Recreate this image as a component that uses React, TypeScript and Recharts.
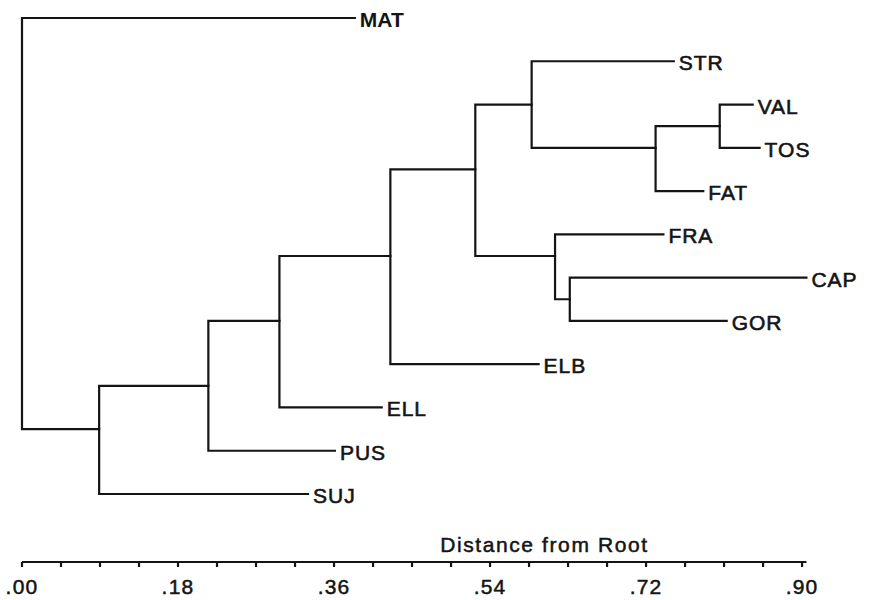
import React from 'react';
import { ComposedChart, Line, Scatter, XAxis, YAxis, Label } from 'recharts';

// Leaves (terminal taxa), top to bottom
const leafNames = ['MAT', 'STR', 'VAL', 'TOS', 'FAT', 'FRA', 'CAP', 'GOR', 'ELB', 'ELL', 'PUS', 'SUJ'];
const leafDistances = [0.384, 0.752, 0.843, 0.851, 0.786, 0.74, 0.905, 0.813, 0.596, 0.415, 0.361, 0.33];
const leafRows = [0, 1, 2, 3, 4, 5, 6, 7, 8, 9, 10, 11];

// Internal nodes
const nodeNames = ['root', 'A', 'B', 'C', 'D', 'E', 'F', 'G', 'H', 'I', 'J'];
const nodeDistances = [0, 0.089, 0.215, 0.297, 0.425, 0.523, 0.588, 0.731, 0.805, 0.615, 0.632];
const nodeRows = [4.75, 9.5, 8.5, 7, 5.5, 3.5, 2, 3, 2.5, 5.5, 6.5];
const nodeUpperChild = ['MAT', 'B', 'C', 'D', 'E', 'F', 'STR', 'H', 'VAL', 'FRA', 'CAP'];
const nodeLowerChild = ['A', 'SUJ', 'PUS', 'ELL', 'ELB', 'I', 'G', 'FAT', 'TOS', 'J', 'GOR'];

// Axis
const axisTicks = [0, 0.045, 0.09, 0.135, 0.18, 0.225, 0.27, 0.315, 0.36, 0.405, 0.45, 0.495, 0.54, 0.585, 0.63, 0.675, 0.72, 0.765, 0.81, 0.855, 0.9];
const labeledTicks = [0, 0.18, 0.36, 0.54, 0.72, 0.9];
const axisTitle = 'Distance from Root';

const FONT = '"Liberation Sans", Arial, Helvetica, sans-serif';
const INK = '#141414';

function position(name: string): { x: number; y: number } {
  const li = leafNames.indexOf(name);
  if (li >= 0) return { x: leafDistances[li], y: leafRows[li] };
  const ni = nodeNames.indexOf(name);
  return { x: nodeDistances[ni], y: nodeRows[ni] };
}

const brackets = nodeNames.map((n, i) => {
  const u = position(nodeUpperChild[i]);
  const l = position(nodeLowerChild[i]);
  const d = nodeDistances[i];
  return {
    name: n,
    points: [
      { x: u.x, y: u.y },
      { x: d, y: u.y },
      { x: d, y: l.y },
      { x: l.x, y: l.y },
    ],
  };
});

const leafData = leafNames.map((n, i) => ({ x: leafDistances[i], y: leafRows[i], name: n }));

const formatTick = (v: number) =>
  labeledTicks.some((t) => Math.abs(t - v) < 1e-9) ? v.toFixed(2).replace(/^0/, '') : '';

const LeafLabel = (props: any) => {
  const { cx, cy, payload } = props;
  if (cx == null || cy == null) return null;
  const bold = payload.name === 'MAT';
  return (
    <text
      x={cx + 5}
      y={cy + 9}
      fontFamily={FONT}
      fontSize={21}
      fontWeight={bold ? 'bold' : 'normal'}
      letterSpacing={bold ? 0 : 1}
      fill={INK}
      stroke={INK}
      strokeWidth={bold ? 0 : 0.6}
      textAnchor="start"
    >
      {payload.name}
    </text>
  );
};

const AxisTitle = (props: any) => {
  const vb = props.viewBox || {};
  return (
    <text
      x={vb.x + vb.width * 0.666}
      y={vb.y - 10}
      textAnchor="middle"
      fontFamily={FONT}
      fontSize={21}
      letterSpacing={1.6}
      fill={INK}
      stroke={INK}
      strokeWidth={0.5}
    >
      {axisTitle}
    </text>
  );
};

export default function App() {
  return (
    <div style={{ position: 'absolute', left: 0, top: 0, width: 873, height: 600, background: '#fff' }}>
      <ComposedChart width={873} height={600} margin={{ top: 18, right: 66.6, bottom: 0, left: 22 }}>
        <XAxis
          type="number"
          dataKey="x"
          domain={[0, 'dataMax']}
          ticks={axisTicks}
          interval={0}
          tickFormatter={formatTick}
          height={38}
          tickSize={5}
          tickMargin={12}
          axisLine={{ stroke: INK, strokeWidth: 2.2 }}
          tickLine={{ stroke: INK, strokeWidth: 2.2 }}
          tick={{ fontSize: 21, fill: INK, fontFamily: FONT, letterSpacing: 1.2, stroke: INK, strokeWidth: 0.5 }}
        >
          <Label content={<AxisTitle />} />
        </XAxis>
        <YAxis type="number" dataKey="y" domain={[0, 11]} reversed hide padding={{ top: 0, bottom: 68 }} />
        {brackets.map((b) => (
          <Line
            key={b.name}
            data={b.points}
            dataKey="y"
            type="linear"
            stroke={INK}
            strokeWidth={2.2}
            strokeLinecap="square"
            dot={false}
            activeDot={false}
            isAnimationActive={false}
            legendType="none"
          />
        ))}
        <Scatter data={leafData} dataKey="y" shape={<LeafLabel />} isAnimationActive={false} legendType="none" />
      </ComposedChart>
    </div>
  );
}
